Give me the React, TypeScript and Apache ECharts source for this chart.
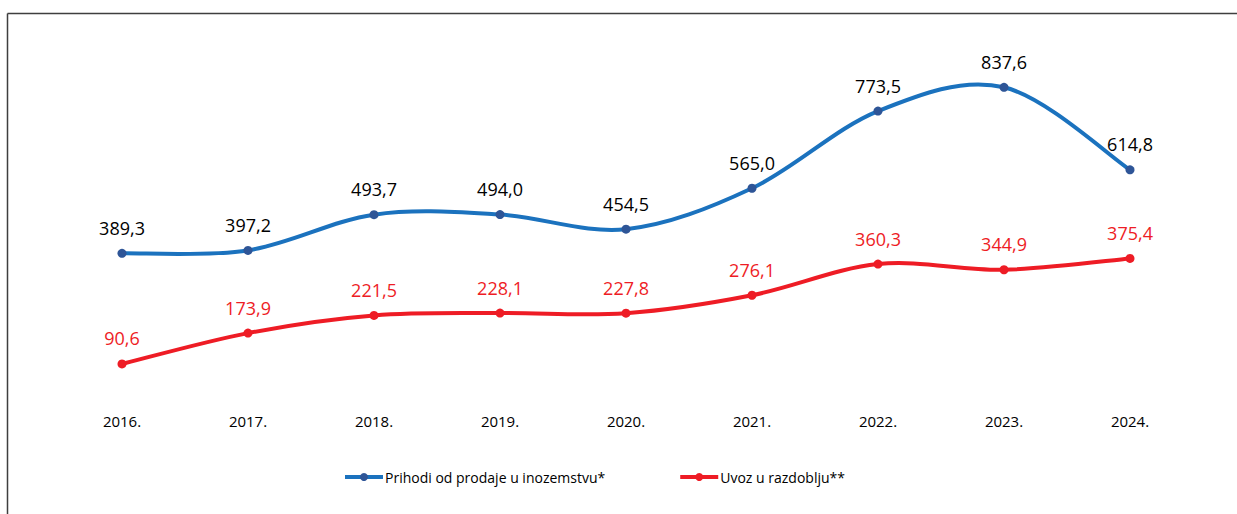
import React, { useEffect, useRef } from "react";
import * as echarts from "echarts";

const years = ["2016.", "2017.", "2018.", "2019.", "2020.", "2021.", "2022.", "2023.", "2024."];
const prihodi = [389.3, 397.2, 493.7, 494.0, 454.5, 565.0, 773.5, 837.6, 614.8];
const uvoz = [90.6, 173.9, 221.5, 228.1, 227.8, 276.1, 360.3, 344.9, 375.4];
const seriesNames = ["Prihodi od prodaje u inozemstvu*", "Uvoz u razdoblju**"];

const BLUE = "#1b72be";
const BLUE_DOT = "#2e5597";
const RED = "#ee1c25";
const FONT = "'Open Sans', 'Noto Sans', sans-serif";
const fmt = (v: number) => v.toFixed(1).replace(".", ",");

// Excel-like smoothed segment (Catmull-Rom converted to cubic Bezier)
function smoothRender(values: number[], color: string) {
  return (params: any, api: any) => {
    const i = params.dataIndex;
    const n = values.length;
    if (i >= n - 1) return null;
    const pt = (k: number) => {
      const c = Math.max(0, Math.min(n - 1, k));
      return api.coord([c, values[c]]);
    };
    const p0 = pt(i - 1);
    const p1 = pt(i);
    const p2 = pt(i + 1);
    const p3 = pt(i + 2);
    const t = 1 / 6;
    return {
      type: "bezierCurve",
      shape: {
        x1: p1[0],
        y1: p1[1],
        cpx1: p1[0] + (p2[0] - p0[0]) * t,
        cpy1: p1[1] + (p2[1] - p0[1]) * t,
        cpx2: p2[0] - (p3[0] - p1[0]) * t,
        cpy2: p2[1] - (p3[1] - p1[1]) * t,
        x2: p2[0],
        y2: p2[1],
      },
      style: { stroke: color, lineWidth: 4, fill: "none", lineCap: "round" },
      silent: true,
    };
  };
}

export default function App() {
  const ref = useRef<HTMLDivElement>(null);
  useEffect(() => {
    if (!ref.current) return;
    const chart = echarts.init(ref.current, undefined, { renderer: "svg" });
    const labelCfg = (color: string) => ({
      show: true,
      position: "top",
      distance: 12,
      color,
      fontSize: 18,
      fontFamily: FONT,
      formatter: (p: any) => fmt(p.value),
    });
    chart.setOption({
      animation: false,
      backgroundColor: "#ffffff",
      textStyle: { fontFamily: FONT },
      graphic: [
        { type: "line", shape: { x1: 7.5, y1: 13.5, x2: 1240, y2: 13.5 }, style: { stroke: "#3f3f3f", lineWidth: 1.5 } },
        { type: "line", shape: { x1: 7.5, y1: 13.5, x2: 7.5, y2: 520 }, style: { stroke: "#3f3f3f", lineWidth: 1.5 } },
      ],
      grid: { left: 59, right: 44, top: 64.2, bottom: 116.5 },
      xAxis: {
        type: "category",
        data: years,
        boundaryGap: true,
        axisLine: { show: false },
        axisTick: { show: false },
        axisLabel: { color: "#000", fontSize: 15, fontFamily: FONT, margin: 16 },
      },
      yAxis: {
        type: "value",
        min: 0,
        max: 900,
        show: false,
        splitLine: { show: false },
      },
      legend: {
        left: 338,
        top: 465,
        itemWidth: 38,
        itemHeight: 10,
        itemGap: 73,
        textStyle: { color: "#000", fontSize: 14, fontFamily: FONT, padding: [0, 0, 0, -3] },
        data: [
          { name: seriesNames[0], lineStyle: { color: BLUE, width: 4, opacity: 1 } },
          { name: seriesNames[1], lineStyle: { color: RED, width: 4, opacity: 1 } },
        ],
      },
      series: [
        {
          name: "_blueLine",
          type: "custom",
          coordinateSystem: "cartesian2d",
          data: prihodi.map((v, i) => [i, v]),
          renderItem: smoothRender(prihodi, BLUE),
          z: 1,
          silent: true,
        },
        {
          name: "_redLine",
          type: "custom",
          coordinateSystem: "cartesian2d",
          data: uvoz.map((v, i) => [i, v]),
          renderItem: smoothRender(uvoz, RED),
          z: 1,
          silent: true,
        },
        {
          name: seriesNames[0],
          type: "line",
          data: prihodi,
          symbol: "circle",
          symbolSize: 9,
          lineStyle: { color: BLUE, width: 4, opacity: 0 },
          itemStyle: { color: BLUE_DOT },
          label: labelCfg("#000"),
          z: 3,
        },
        {
          name: seriesNames[1],
          type: "line",
          data: uvoz,
          symbol: "circle",
          symbolSize: 9,
          lineStyle: { color: RED, width: 4, opacity: 0 },
          itemStyle: { color: RED },
          label: labelCfg(RED),
          z: 3,
        },
      ],
    });
    return () => chart.dispose();
  }, []);
  return (
    <div style={{ position: "absolute", left: 0, top: 0, width: 1237, height: 514 }}>
      <div ref={ref} style={{ width: 1237, height: 514 }} />
    </div>
  );
}
